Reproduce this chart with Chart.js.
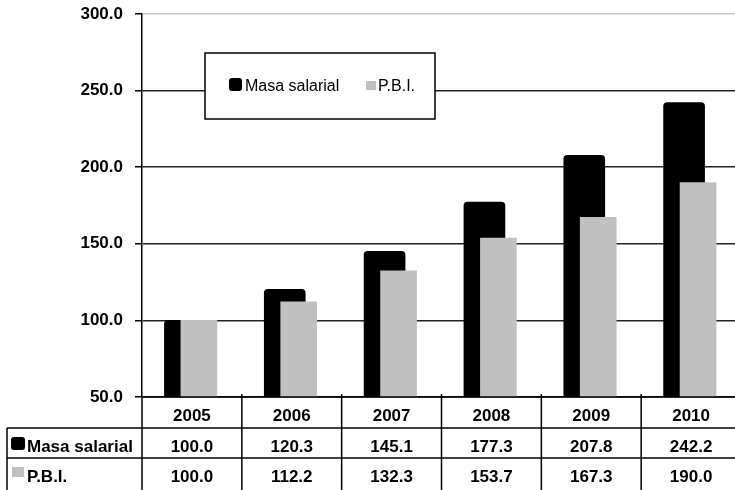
<!DOCTYPE html>
<html><head><meta charset="utf-8">
<script src="https://cdn.jsdelivr.net/npm/chart.js@4/dist/chart.umd.min.js"></script>
<style>html,body{margin:0;padding:0;overflow:hidden;background:#fff;width:735px;height:490px}
canvas{display:block}</style></head>
<body><canvas id="c" width="741" height="490"></canvas>
<script>
const years = ['2005','2006','2007','2008','2009','2010'];
const masaSalarial = [100.0, 120.3, 145.1, 177.3, 207.8, 242.2];
const pbi = [100.0, 112.2, 132.3, 153.7, 167.3, 190.0];
const yTicks = [50, 100, 150, 200, 250, 300];
const seriesLabels = ['Masa salarial', 'P.B.I.'];

const FONT = "'Liberation Sans', Arial, sans-serif";
const BLACK_SHIFT = -0.07, GRAY_SHIFT = 0.07;

const overlayPlugin = {
  id: 'overlay',
  afterDraw(chart) {
    const {ctx, chartArea: a, scales: {x}} = chart;
    const top = a.bottom;
    const rows = [top, top + 31, top + 61, top + 94];
    ctx.save();
    ctx.strokeStyle = '#000';
    ctx.lineWidth = 1.5;
    const line = (x1, y1, x2, y2) => { ctx.beginPath(); ctx.moveTo(x1, y1); ctx.lineTo(x2, y2); ctx.stroke(); };
    line(a.left, rows[0], a.right, rows[0]);
    line(7, rows[1], a.right, rows[1]);
    line(7, rows[2], a.right, rows[2]);
    line(7, rows[1], 7, rows[3]);
    for (let i = 0; i <= years.length; i++) {
      const xb = x.getPixelForValue(i - 0.5);
      line(xb, i > 0 ? rows[0] - 3 : rows[0], xb, rows[3]);
    }
    ctx.fillStyle = '#000';
    ctx.font = 'bold 17px ' + FONT;
    ctx.textAlign = 'center';
    ctx.textBaseline = 'alphabetic';
    years.forEach((y, i) => ctx.fillText(y, x.getPixelForValue(i), 421));
    masaSalarial.forEach((v, i) => ctx.fillText(v.toFixed(1), x.getPixelForValue(i), 451.5));
    pbi.forEach((v, i) => ctx.fillText(v.toFixed(1), x.getPixelForValue(i), 482));
    ctx.textAlign = 'left';
    ctx.fillText(seriesLabels[0], 27, 451.5);
    ctx.fillText(seriesLabels[1], 27, 482);
    ctx.fillStyle = '#000';
    ctx.beginPath(); ctx.roundRect(11, 437, 14, 13, 3); ctx.fill();
    ctx.fillStyle = '#c0c0c0';
    ctx.fillRect(12, 467, 12, 10);

    // legend box
    ctx.fillStyle = '#fff';
    ctx.fillRect(205, 53, 230, 66);
    ctx.strokeRect(205, 53, 230, 66);
    ctx.fillStyle = '#000';
    ctx.beginPath(); ctx.roundRect(229, 78, 13, 13, 3); ctx.fill();
    ctx.font = '16px ' + FONT;
    ctx.fillText(seriesLabels[0], 245, 90.5);
    ctx.fillStyle = '#c0c0c0';
    ctx.fillRect(366, 81, 10, 9);
    ctx.fillStyle = '#000';
    ctx.fillText(seriesLabels[1], 378, 90.5);
    ctx.restore();
  }
};

new Chart(document.getElementById('c'), {
  type: 'bar',
  data: {
    datasets: [
      {label: seriesLabels[0], data: masaSalarial.map((v, i) => ({x: i + BLACK_SHIFT, y: v})),
       backgroundColor: '#000', barThickness: 41, grouped: false, borderRadius: 4, borderSkipped: false, order: 2},
      {label: seriesLabels[1], data: pbi.map((v, i) => ({x: i + GRAY_SHIFT, y: v})),
       backgroundColor: '#c0c0c0', barThickness: 36, grouped: false, order: 1}
    ]
  },
  options: {
    responsive: false,
    animation: false,
    layout: {padding: {top: 14, bottom: 93, left: 0, right: 0}},
    plugins: {legend: {display: false}, tooltip: {enabled: false}},
    scales: {
      x: {type: 'linear', min: -0.5, max: 5.5, offset: false, display: false},
      y: {
        min: 50, max: 300,
        afterBuildTicks: s => { s.ticks = yTicks.map(v => ({value: v})); },
        afterFit: s => { s.width = 142; s.paddingTop = 0; s.paddingBottom = 0; },
        ticks: {font: {family: FONT, size: 17, weight: 'bold'}, color: '#000', padding: 12,
                callback: v => Number(v).toFixed(1)},
        grid: {color: c => ((c.tick && c.tick.value >= 300) || c.index === yTicks.length - 1) ? '#c8c8c8' : '#222',
               lineWidth: 1.5, tickLength: 7, tickColor: '#000'},
        border: {color: '#000', width: 1.5}
      }
    }
  },
  plugins: [overlayPlugin]
});
</script>
</body></html>
